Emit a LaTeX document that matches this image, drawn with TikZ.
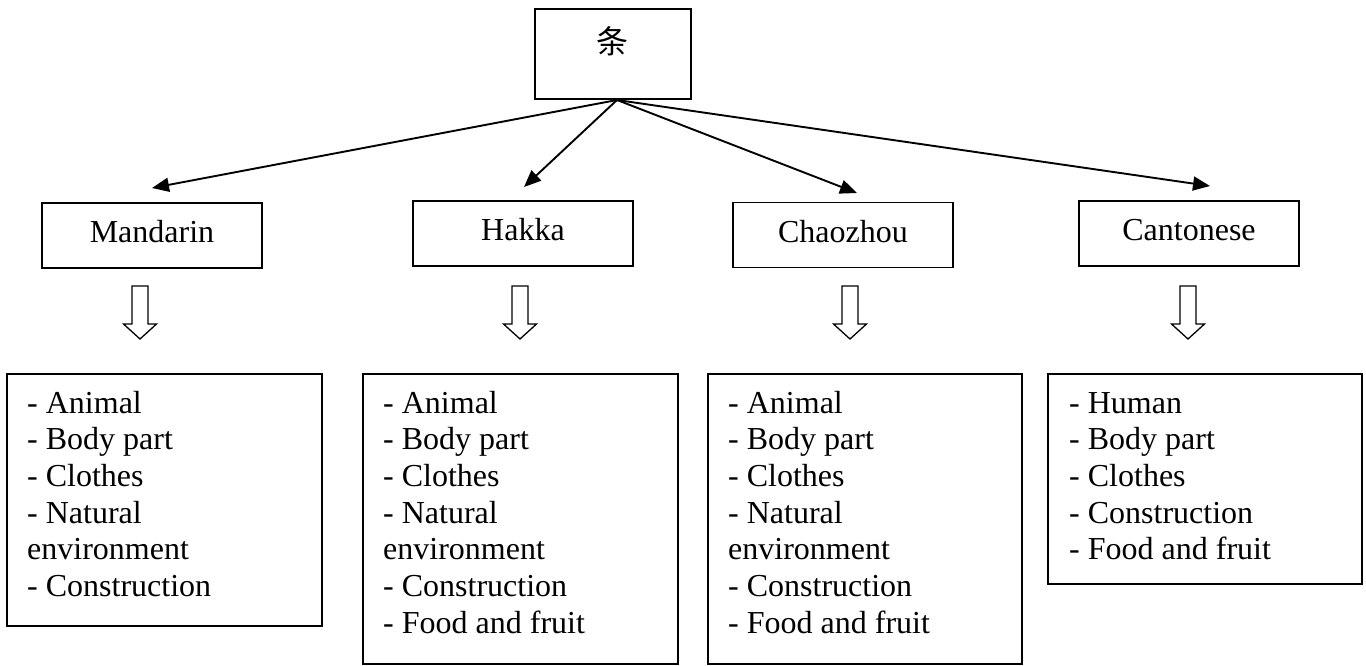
\documentclass[tikz,border=0pt]{standalone}
\usepackage{fontspec}
\setmainfont{Liberation Serif}
\newfontfamily\cjk{Noto Sans CJK SC}
\usetikzlibrary{arrows.meta,calc}
\tikzset{
  boxline/.style={draw=black,line width=1.9pt},
  midbox/.style={boxline,minimum width=220pt,minimum height=65pt,inner sep=0pt,
    text height=22pt,text depth=8pt,font=\fontsize{32}{36.7}\selectfont},
  lowbox/.style={boxline,anchor=north west,inner sep=0pt},
  listtext/.style={anchor=base west,inner sep=0pt,font=\fontsize{32}{36.7}\selectfont},
  conn/.style={line width=1.9pt,-{Triangle[length=17pt,width=14pt]}},
  harrow/.pic={\draw[line width=1.3pt,line join=miter] (-8,0) -- (-8,38) -- (-16.5,38) -- (0,53) -- (16.5,38) -- (8,38) -- (8,0) -- cycle;}
}
\newcommand{\itemlist}[1]{\fontsize{32}{36.7}\selectfont\begin{tabular}[t]{@{}l@{}}#1\end{tabular}}
\begin{document}
\begin{tikzpicture}[x=1pt,y=-1pt]
\useasboundingbox (0,0) rectangle (1366,665);
\fill[white] (0,0) rectangle (1366,665);
% top box
\node[boxline,minimum width=156pt,minimum height=90pt,inner sep=0pt] (top) at (613,54) {};
\node[inner sep=0pt,font=\cjk\fontsize{32}{36}\selectfont] (toptext) at (612,41) {条};
% middle boxes
\node[midbox] (man) at (152,235.5) {Mandarin};
\node[midbox] (hak) at (523,233.5) {Hakka};
\node[midbox] (cha) at (843,235) {Chaozhou};
\node[midbox] (can) at (1189,233.5) {Cantonese};
% arrow tips
\coordinate (tman) at (152,188);
\coordinate (thak) at (524,187);
\coordinate (tcha) at (857,193);
\coordinate (tcan) at (1210,186);
\coordinate (src) at (617,100);
\draw[conn] (src) -- (tman);
\draw[conn] (src) -- (thak);
\draw[conn] (src) -- (tcha);
\draw[conn] (src) -- (tcan);
% hollow arrows
\pic at (140,286) {harrow};
\pic at (520,286) {harrow};
\pic at (850,286) {harrow};
\pic at (1188,286) {harrow};
% lower boxes
\node[lowbox,minimum width=315pt,minimum height=252pt] (lman) at (6,373) {};
\node[lowbox,minimum width=315pt,minimum height=290pt] (lhak) at (362,373) {};
\node[lowbox,minimum width=314pt,minimum height=290pt] (lcha) at (707,373) {};
\node[lowbox,minimum width=314pt,minimum height=210pt] (lcan) at (1047,373) {};
\node[listtext] (xman) at (27,413) {\itemlist{- Animal\\- Body part\\- Clothes\\- Natural\\environment\\- Construction}};
\node[listtext] (xhak) at (383,413) {\itemlist{- Animal\\- Body part\\- Clothes\\- Natural\\environment\\- Construction\\- Food and fruit}};
\node[listtext] (xcha) at (728,413) {\itemlist{- Animal\\- Body part\\- Clothes\\- Natural\\environment\\- Construction\\- Food and fruit}};
\node[listtext] (xcan) at (1069,413) {\itemlist{- Human\\- Body part\\- Clothes\\- Construction\\- Food and fruit}};
\end{tikzpicture}
\end{document}
